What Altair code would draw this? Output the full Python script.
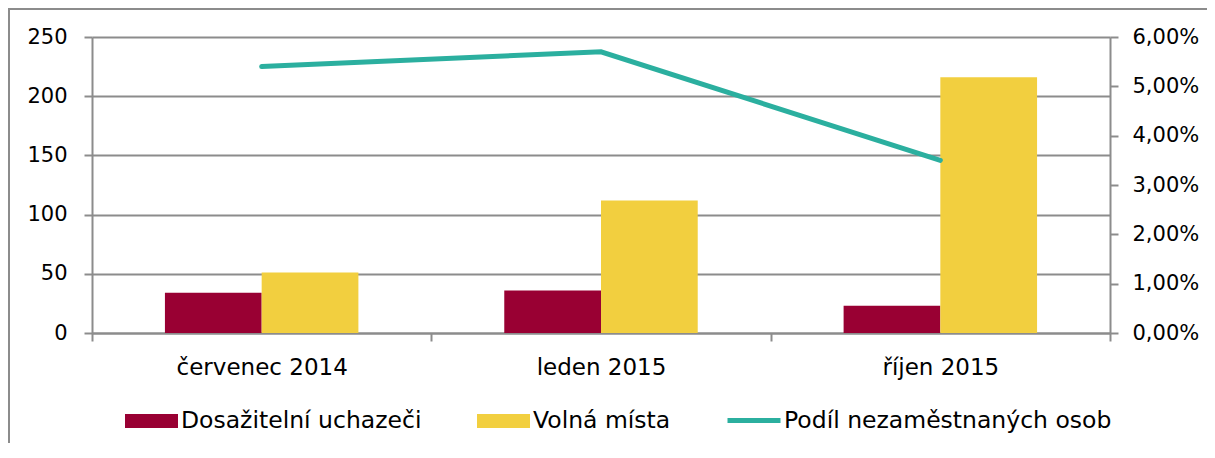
import altair as alt
import pandas as pd

months = ["červenec 2014", "leden 2015", "říjen 2015"]
series_names = ["Dosažitelní uchazeči", "Volná místa"]
uchazeci = [34, 36, 23]
mista = [51, 112, 216]
line_name = "Podíl nezaměstnaných osob"
podil = [0.054, 0.057, 0.035]
left_ticks = [0, 50, 100, 150, 200, 250]
right_ticks = [0, 0.01, 0.02, 0.03, 0.04, 0.05, 0.06]

RED = "#990033"
YELLOW = "#F2CF3F"
TEAL = "#2BAF9F"
GRAY = "#8c8c8c"
FONT = "DejaVu Sans"

rows = []
for i, m in enumerate(months):
    rows.append({"month": m, "series": series_names[0], "value": uchazeci[i]})
    rows.append({"month": m, "series": series_names[1], "value": mista[i]})
df_bars = pd.DataFrame(rows)
df_line = pd.DataFrame({"month": months, "podil": podil, "label": [line_name] * len(months)})

W, H = 1018, 296
PL, PT, PR, PB = 84, 29, 97, 110

x_axis = alt.Axis(title=None, tickBand="extent", labelAngle=0, tickSize=8,
                  labelPadding=15, grid=False, domainWidth=2, tickWidth=2,
                  labelFontSize=23)
x_scale = alt.Scale(paddingInner=0, paddingOuter=0)

bars = alt.Chart(df_bars).mark_bar().encode(
    x=alt.X("month:N", sort=months, scale=x_scale, axis=x_axis),
    xOffset=alt.XOffset("series:N", sort=series_names,
                        scale=alt.Scale(paddingInner=0, paddingOuter=0.754)),
    y=alt.Y("value:Q", scale=alt.Scale(domain=[0, 250], nice=False),
            axis=alt.Axis(title=None, values=left_ticks, grid=True, tickSize=8,
                          labelPadding=17, domainWidth=2, tickWidth=2,
                          labelFontSize=21)),
    color=alt.Color("series:N", scale=alt.Scale(domain=series_names, range=[RED, YELLOW]),
                    legend=alt.Legend(title=None, orient="none", legendX=33, legendY=357.5,
                                      direction="horizontal",
                                      symbolType="M-1,-0.264H1V0.264H-1Z",
                                      symbolSize=2809, symbolStrokeWidth=0,
                                      labelFont=FONT, labelFontSize=23.5, labelColor="#000",
                                      labelLimit=0, labelOffset=3, columnPadding=55,
                                      padding=0)),
)

line = alt.Chart(df_line).mark_line(strokeWidth=5, strokeCap="round").encode(
    x=alt.X("month:N", sort=months, scale=x_scale, axis=x_axis),
    y=alt.Y("podil:Q", scale=alt.Scale(domain=[0, 0.06], nice=False),
            axis=alt.Axis(title=None, orient="right", values=right_ticks, grid=False,
                          tickSize=8, labelPadding=14, domainWidth=2, tickWidth=2,
                          labelFontSize=21,
                          labelExpr="replace(format(datum.value, '.2%'), '.', ',')")),
    stroke=alt.Stroke("label:N", scale=alt.Scale(domain=[line_name], range=[TEAL]),
                      legend=alt.Legend(title=None, orient="none", legendX=633, legendY=354.5,
                                        symbolType="stroke", symbolSize=2809,
                                        symbolStrokeWidth=5,
                                        labelFont=FONT, labelFontSize=23.5, labelColor="#000",
                                        labelLimit=0, labelOffset=1, padding=0)),
)

frame_data = alt.Data(values=[{"k": 1}])
frame_left = alt.Chart(frame_data).mark_rule(color=GRAY, strokeWidth=2).encode(
    x=alt.value(-PL + 1), y=alt.value(-PT + 1), y2=alt.value(H + PB)
)
frame_top = alt.Chart(frame_data).mark_rule(color=GRAY, strokeWidth=2).encode(
    x=alt.value(-PL), x2=alt.value(W + PR), y=alt.value(-PT + 1)
)

chart = alt.layer(bars, line, frame_left, frame_top).resolve_scale(
    y="independent"
).properties(
    width=W, height=H,
    autosize=alt.AutoSizeParams(type="none"),
    padding={"left": PL, "top": PT, "right": PR, "bottom": PB},
).configure_view(stroke=None).configure_axis(
    labelFont=FONT, labelColor="#000",
    domainColor=GRAY, tickColor=GRAY, gridColor=GRAY, gridWidth=2,
)

chart.save("out.html", embed_options={"renderer": "svg", "actions": False})
